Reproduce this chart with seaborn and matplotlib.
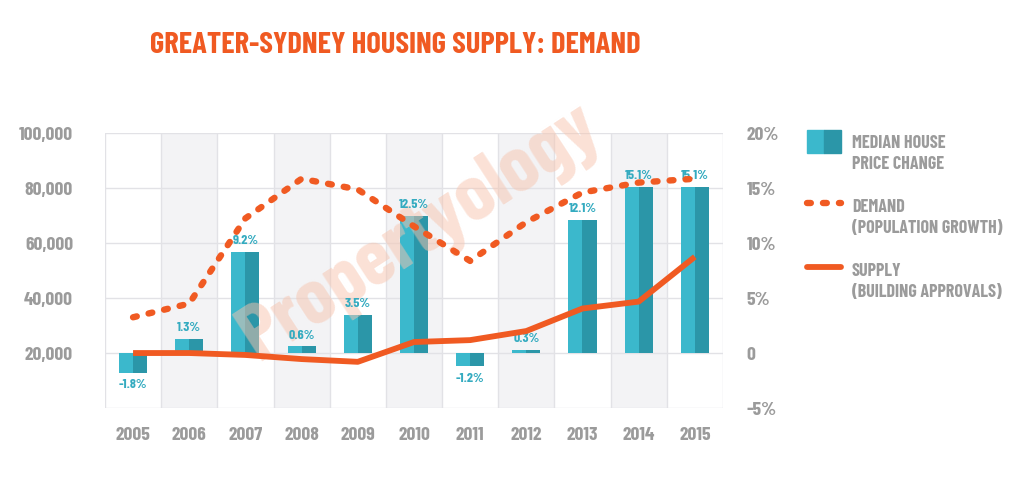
import numpy as np
import pandas as pd
import matplotlib
matplotlib.use("Agg")
import matplotlib.pyplot as plt
import matplotlib.transforms as mtransforms
from matplotlib.artist import Artist
from matplotlib.patches import Patch
from matplotlib.lines import Line2D
from matplotlib.legend_handler import HandlerTuple, HandlerLine2D
import seaborn as sns

# data
years = ["2005", "2006", "2007", "2008", "2009", "2010", "2011", "2012", "2013", "2014", "2015"]
price_change = [-1.8, 1.3, 9.2, 0.6, 3.5, 12.5, -1.2, 0.3, 12.1, 15.1, 15.1]
demand = [33000, 38000, 69000, 83400, 79500, 66100, 53500, 67600, 78400, 82000, 83400]
supply = [20000, 20000, 19300, 17800, 16800, 24000, 24700, 28000, 36200, 38700, 55000]

ORANGE = "#f05a22"
TEAL_L = "#3bb8cc"
TEAL_D = "#2b96a8"
GREY = "#9b9b9b"
FONT = ["Barlow Condensed", "DejaVu Sans"]

sns.set_theme(style="white")
plt.rcParams["font.family"] = FONT
plt.rcParams["font.weight"] = "bold"

fig = plt.figure(figsize=(10.24, 4.84), dpi=100)
ax = fig.add_axes([0.1025, 0.157, 0.6035, 0.568])
ax2 = ax.twinx()

n = len(years)
# alternating column shading + grid
for i in range(n):
    if i % 2 == 1:
        ax.axvspan(i - 0.5, i + 0.5, color="#f3f3f5", zorder=0, lw=0)
for i in range(n + 1):
    ax.axvline(i - 0.5, color="#e2e2e6", lw=1, zorder=0.5)
for v in range(-5, 25, 5):
    ax.axhline(v, color="#e2e2e6", lw=1, zorder=0.5)

# two-tone bars: same value split into two dodged halves
bars = pd.DataFrame({
    "year": years * 2,
    "pct": price_change * 2,
    "half": ["a"] * n + ["b"] * n,
})
sns.barplot(data=bars, x="year", y="pct", hue="half", palette=[TEAL_L, TEAL_D],
            width=0.5, gap=0, dodge=True, saturation=1, legend=False, ax=ax,
            linewidth=0, zorder=2)

for i, v in enumerate(price_change):
    if v >= 0:
        ax.text(i, v + 0.5, f"{v}%", ha="center", va="bottom", color="#34abc0",
                fontsize=10, zorder=5)
    else:
        ax.text(i, v - 0.6, f"{v}%", ha="center", va="top", color="#34abc0",
                fontsize=10, zorder=5)

ax.set_ylim(-5, 20)
ax.set_xlim(-0.5, n - 0.5)
ax.set_yticks([-5, 0, 5, 10, 15, 20])
ax.set_yticklabels(["-5%", "0", "5%", "10%", "15%", "20%"])
ax.yaxis.tick_right()
ax.set_xlabel("")
ax.set_ylabel("")

# watermark, above bars but under the lines
ax.text(0.41, 0.52, "Propertyology", rotation=33, fontsize=58, color="#f7c4ae",
        alpha=0.5, ha="center", va="center", transform=fig.transFigure, zorder=3)

# lines on the population scale
xs = np.arange(n)
sns.lineplot(x=xs, y=demand, color=ORANGE, lw=4.6, ax=ax2,
             linestyle=(0, (0.6, 1.9)), dash_capstyle="round")
sns.lineplot(x=xs, y=supply, color=ORANGE, lw=4.2, ax=ax2, solid_capstyle="butt")
ax2.set_ylim(0, 100000)
ax2.set_yticks([20000, 40000, 60000, 80000, 100000])
ax2.set_yticklabels([f"{v:,}" for v in [20000, 40000, 60000, 80000, 100000]])
ax2.yaxis.tick_left()
ax2.set_xlim(-0.5, n - 0.5)

for a in (ax, ax2):
    for s in a.spines.values():
        s.set_visible(False)
    a.tick_params(length=0, labelsize=14, labelcolor=GREY)
ax.tick_params(axis="x", pad=14)
ax.tick_params(axis="y", pad=17)
ax2.tick_params(axis="y", pad=23)

fig.text(0.386, 0.907, "GREATER-SYDNEY HOUSING SUPPLY: DEMAND", ha="center", va="center",
         fontsize=22, color=ORANGE)


# legend: keep the key level with the first line of each two-line label
class Raised:
    def __init__(self, base, dy=9):
        self.base = base
        self.dy = dy

    def legend_artist(self, legend, orig_handle, fontsize, handlebox):
        art = self.base.legend_artist(legend, orig_handle, fontsize, handlebox)
        for child in handlebox.get_children():
            child.set_transform(mtransforms.Affine2D().translate(0, self.dy)
                                + Artist.get_transform(child))
        return art


handles = [
    (Patch(color=TEAL_L), Patch(color=TEAL_D)),
    Line2D([], [], color=ORANGE, lw=4.6, linestyle=(0, (0.6, 1.9)), dash_capstyle="round"),
    Line2D([], [], color=ORANGE, lw=4.2),
]
labels = ["MEDIAN HOUSE\nPRICE CHANGE", "DEMAND\n(POPULATION GROWTH)", "SUPPLY\n(BUILDING APPROVALS)"]
leg = fig.legend(handles, labels, loc="upper left", bbox_to_anchor=(0.772, 0.755), frameon=False,
                 labelcolor=GREY, handlelength=1.9, handleheight=1.6,
                 labelspacing=1.45, handletextpad=0.6,
                 handler_map={tuple: Raised(HandlerTuple(ndivide=None, pad=0)),
                              Line2D: Raised(HandlerLine2D())},
                 prop={"family": FONT, "weight": "bold", "size": 13})
for t in leg.get_texts():
    t.set_linespacing(1.3)

fig.savefig("out.png", dpi=100, facecolor="white")
